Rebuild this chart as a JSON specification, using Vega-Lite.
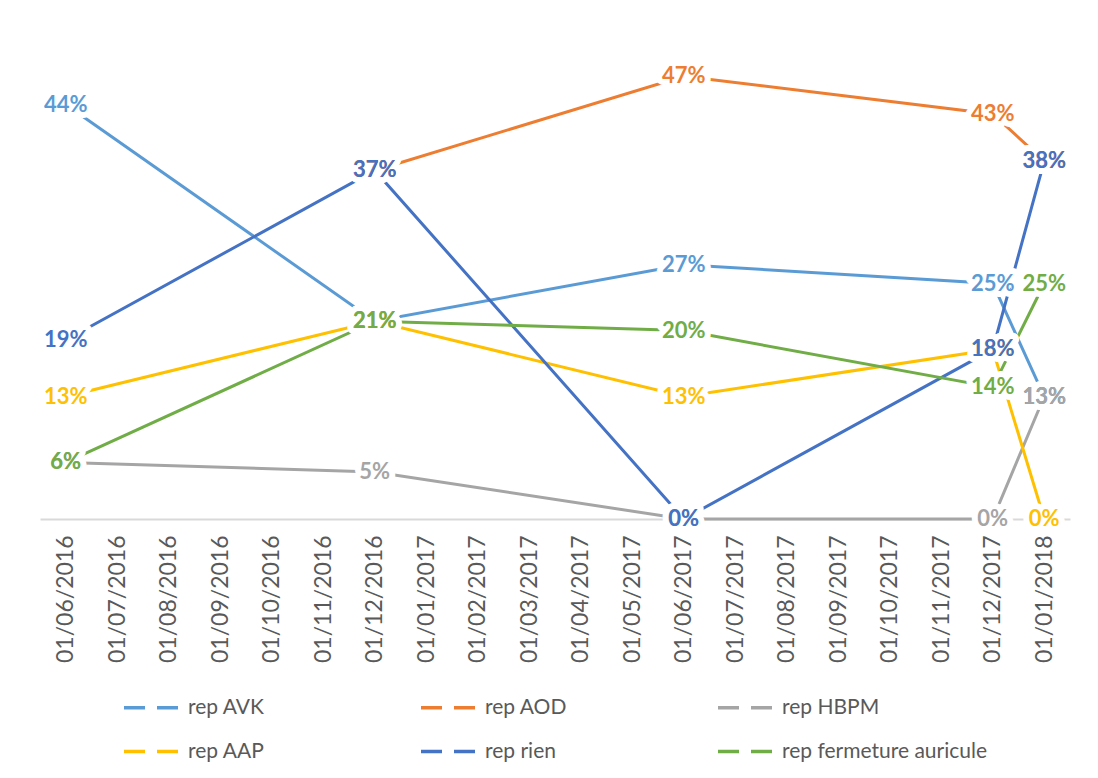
{
  "$schema": "https://vega.github.io/schema/vega-lite/v6.json",
  "width": 1030,
  "height": 471,
  "autosize": {"type": "none"},
  "padding": {"left": 40, "top": 48, "right": 28, "bottom": 259},
  "background": "white",
  "config": {
    "view": {"stroke": null},
    "font": "Lato"
  },
  "data": {
    "values": [
      {"month": "01/06/2016", "series": "rep AVK", "value": 0.44},
      {"month": "01/12/2016", "series": "rep AVK", "value": 0.21},
      {"month": "01/06/2017", "series": "rep AVK", "value": 0.27},
      {"month": "01/12/2017", "series": "rep AVK", "value": 0.25},
      {"month": "01/01/2018", "series": "rep AVK", "value": 0.13},
      {"month": "01/12/2016", "series": "rep AOD", "value": 0.37},
      {"month": "01/06/2017", "series": "rep AOD", "value": 0.47},
      {"month": "01/12/2017", "series": "rep AOD", "value": 0.43},
      {"month": "01/01/2018", "series": "rep AOD", "value": 0.38},
      {"month": "01/06/2016", "series": "rep HBPM", "value": 0.06},
      {"month": "01/12/2016", "series": "rep HBPM", "value": 0.05},
      {"month": "01/06/2017", "series": "rep HBPM", "value": 0.0},
      {"month": "01/12/2017", "series": "rep HBPM", "value": 0.0},
      {"month": "01/01/2018", "series": "rep HBPM", "value": 0.13},
      {"month": "01/06/2016", "series": "rep AAP", "value": 0.13},
      {"month": "01/12/2016", "series": "rep AAP", "value": 0.21},
      {"month": "01/06/2017", "series": "rep AAP", "value": 0.13},
      {"month": "01/12/2017", "series": "rep AAP", "value": 0.18},
      {"month": "01/01/2018", "series": "rep AAP", "value": 0.0},
      {"month": "01/06/2016", "series": "rep rien", "value": 0.19},
      {"month": "01/12/2016", "series": "rep rien", "value": 0.37},
      {"month": "01/06/2017", "series": "rep rien", "value": 0.0},
      {"month": "01/12/2017", "series": "rep rien", "value": 0.18},
      {"month": "01/01/2018", "series": "rep rien", "value": 0.38},
      {"month": "01/06/2016", "series": "rep fermeture auricule", "value": 0.06},
      {"month": "01/12/2016", "series": "rep fermeture auricule", "value": 0.21},
      {"month": "01/06/2017", "series": "rep fermeture auricule", "value": 0.20},
      {"month": "01/12/2017", "series": "rep fermeture auricule", "value": 0.14},
      {"month": "01/01/2018", "series": "rep fermeture auricule", "value": 0.25}
    ]
  },
  "encoding": {
    "x": {
      "field": "month",
      "type": "ordinal",
      "scale": {
        "type": "point",
        "padding": 0.5,
        "domain": ["01/06/2016", "01/07/2016", "01/08/2016", "01/09/2016", "01/10/2016", "01/11/2016", "01/12/2016", "01/01/2017", "01/02/2017", "01/03/2017", "01/04/2017", "01/05/2017", "01/06/2017", "01/07/2017", "01/08/2017", "01/09/2017", "01/10/2017", "01/11/2017", "01/12/2017", "01/01/2018"]
      },
      "axis": {
        "title": null,
        "labelAngle": -90,
        "labelAlign": "right",
        "labelBaseline": "middle",
        "labelFont": "Lato",
        "labelFontSize": 23,
        "labelColor": "#595959",
        "labelPadding": 16,
        "ticks": false,
        "grid": false,
        "domainColor": "#D9D9D9",
        "domainWidth": 2,
        "labelOverlap": false
      }
    },
    "y": {
      "field": "value",
      "type": "quantitative",
      "scale": {"domain": [0, 0.5], "nice": false, "zero": true},
      "axis": null
    }
  },
  "layer": [
    {
      "mark": {"type": "line", "strokeWidth": 3, "strokeCap": "butt"},
      "encoding": {
        "color": {
          "field": "series",
          "type": "nominal",
          "scale": {
            "domain": ["rep AVK", "rep AOD", "rep HBPM", "rep AAP", "rep rien", "rep fermeture auricule"],
            "range": ["#5B9BD5", "#ED7D31", "#A5A5A5", "#FFC000", "#4472C4", "#70AD47"]
          },
          "legend": {
            "title": null,
            "orient": "none",
            "legendX": 82,
            "legendY": 630,
            "direction": "horizontal",
            "columns": 3,
            "gridAlign": "all",
            "columnPadding": 20,
            "rowPadding": 4,
            "symbolType": "stroke",
            "symbolSize": 3025,
            "symbolStrokeWidth": 3.5,
            "symbolDash": [21, 12],
            "labelFont": "Lato",
            "labelFontSize": 21,
            "labelColor": "#595959",
            "labelOffset": 7,
            "labelLimit": 400
          }
        }
      }
    },
    {
      "mark": {"type": "text", "font": "Lato", "fontWeight": "bold", "fontSize": 22, "stroke": "white", "strokeWidth": 12, "strokeJoin": "round", "fill": "white", "baseline": "middle", "align": "center"},
      "encoding": {
        "text": {"field": "value", "type": "quantitative", "format": ".0%"}
      }
    },
    {
      "mark": {"type": "text", "font": "Lato", "fontWeight": "bold", "fontSize": 22, "baseline": "middle", "align": "center"},
      "encoding": {
        "text": {"field": "value", "type": "quantitative", "format": ".0%"},
        "color": {"field": "series", "type": "nominal", "legend": null}
      }
    }
  ]
}
